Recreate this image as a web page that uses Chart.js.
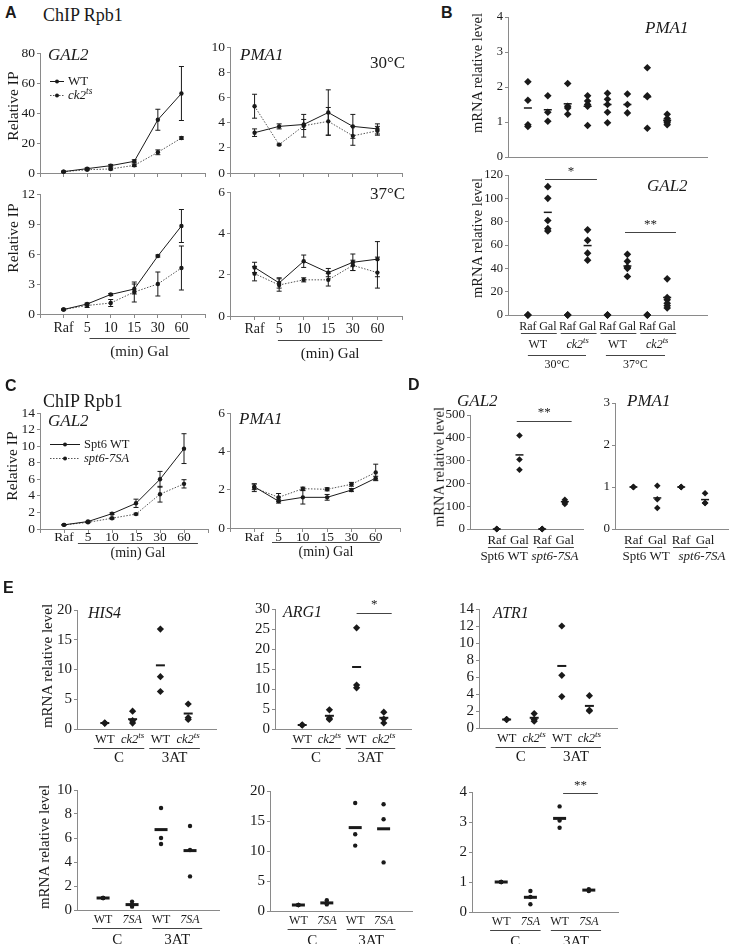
<!DOCTYPE html>
<html>
<head>
<meta charset="utf-8">
<title>ChIP Rpb1 / mRNA figure</title>
<script src="https://cdn.jsdelivr.net/npm/chart.js@4.4.1/dist/chart.umd.min.js"></script>
<style>
  body { margin: 0; background: #fff; }
  #fig { position: relative; width: 730px; height: 944px; overflow: hidden; color: #1a1a1a;
         font-family: "Liberation Serif", "Times New Roman", serif; }
  #fig canvas { position: absolute; }
  .c { position: absolute; white-space: nowrap; transform: translate(-50%, -50%); line-height: 1; }
  .l { position: absolute; white-space: nowrap; transform: translateY(-50%); line-height: 1; }
  .y { position: absolute; white-space: nowrap; transform: translate(-50%, -50%) rotate(-90deg); line-height: 1; font-size: 15px; }
  .p { font-family: "Liberation Sans", Arial, sans-serif; font-weight: bold; font-size: 16px; }
</style>
</head>
<body>
<div id="fig"></div>
<script>
// ---- data ----
const timeLabels = ['Raf', '5', '10', '15', '30', '60'];

// A: ChIP Rpb1, WT vs ck2ts
const gal2WT30 = [0.9, 2.9, 4.9, 7.8, 35.5, 53];
const gal2WT30Err = [0.3, 0.5, 0.8, 1, 7, 18];
const gal2Ck30 = [0.9, 2.2, 2.7, 5.1, 13.8, 23.3];
const gal2Ck30Err = [0.3, 0.4, 0.6, 0.8, 1.6, 0.8];
const pma1WT30 = [3.2, 3.7, 3.85, 4.8, 3.7, 3.5];
const pma1WT30Err = [0.3, 0.2, 0.4, 1.8, 0.95, 0.4];
const pma1Ck30 = [5.3, 2.25, 3.75, 4.1, 2.95, 3.35];
const pma1Ck30Err = [0.95, 0.05, 0.9, 1.1, 0.75, 0.35];
const gal2WT37 = [0.45, 1, 1.95, 2.5, 5.8, 8.8];
const gal2WT37Err = [0.05, 0.1, 0.1, 0.5, 0.1, 1.65];
const gal2Ck37 = [0.45, 0.85, 1.1, 2.2, 3, 4.6];
const gal2Ck37Err = [0.05, 0.2, 0.35, 1, 1.2, 2.2];
const pma1WT37 = [2.35, 1.6, 2.65, 2.1, 2.6, 2.75];
const pma1WT37Err = [0.25, 0.25, 0.3, 0.2, 0.4, 0.85];
const pma1Ck37 = [2.05, 1.5, 1.75, 1.75, 2.45, 2.1];
const pma1Ck37Err = [0.35, 0.3, 0.1, 0.3, 0.25, 0.75];

// B: mRNA, Raf/Gal for WT & ck2ts at 30 and 37
const bCats = ['Raf', 'Gal', 'Raf', 'Gal', 'Raf', 'Gal', 'Raf', 'Gal'];
const bPma1 = [
  [2.15, 1.62, 0.92, 0.87], [1.75, 1.28, 1.02], [2.1, 1.45, 1.4, 1.22], [1.75, 1.6, 1.5, 1.45, 0.9],
  [1.82, 1.65, 1.5, 1.28, 0.98], [1.8, 1.5, 1.26], [2.55, 1.75, 1.72, 0.82], [1.22, 1.1, 1.02, 0.98, 0.92]
];
const bPma1Mean = [1.4, 1.35, 1.52, 1.45, 1.5, 1.5, 1.72, 1.05];
const bGal2 = [
  [0, 0, 0], [110, 100, 81, 74, 72], [0, 0, 0], [73, 64, 53, 47],
  [0, 0, 0], [52, 46, 41, 40, 33], [0, 0, 0], [31, 15, 13, 10, 8, 6]
];
const bGal2Mean = [null, 88, null, 59.5, null, 42, null, 15];

// C: ChIP Rpb1, Spt6 WT vs spt6-7SA
const cGal2WT = [0.5, 0.9, 1.85, 3.1, 6, 9.7];
const cGal2WTErr = [0.05, 0.05, 0.1, 0.5, 0.95, 1.8];
const cGal2SA = [0.5, 0.8, 1.3, 1.8, 4.2, 5.45];
const cGal2SAErr = [0.05, 0.05, 0.1, 0.1, 0.95, 0.5];
const cPma1WT = [2.15, 1.4, 1.6, 1.6, 1.98, 2.6];
const cPma1WTErr = [0.15, 0.1, 0.35, 0.15, 0.08, 0.1];
const cPma1SA = [2.1, 1.6, 2.05, 2.02, 2.28, 2.9];
const cPma1SAErr = [0.2, 0.2, 0.08, 0.08, 0.1, 0.43];

// D: mRNA, Raf/Gal for Spt6 WT & spt6-7SA
const dCats = ['Raf', 'Gal', 'Raf', 'Gal'];
const dGal2 = [[0, 0, 0], [410, 305, 260], [0, 0, 0], [128, 120, 115, 110]];
const dGal2Mean = [0, 325, 0, 120];
const dPma1 = [[1, 1, 1], [1.03, 0.71, 0.5], [1, 1, 1], [0.85, 0.62, 0.62]];
const dPma1Mean = [1, 0.74, 1, 0.7];

// E: mRNA, control vs 3AT
const CK2 = [['ck2', 'i'], ['ts', 'is']];
const SA7 = [['7SA', 'i']];
const eCatsCk = ['WT', CK2, 'WT', CK2];
const eCatsSA = ['WT', SA7, 'WT', SA7];
const his4 = [[1, 1, 1], [3, 1.4, 1], [16.8, 8.8, 6.3], [4.2, 1.9, 1.6]];
const his4Mean = [1, 1.65, 10.7, 2.6];
const arg1 = [[1, 1, 1], [4.8, 2.7, 2.4], [25.3, 11, 10.3], [4.2, 2.5, 1.5]];
const arg1Mean = [1, 3.3, 15.5, 2.8];
const atr1 = [[1, 1, 1], [1.7, 1, 0.8], [12, 6.2, 3.7], [3.8, 2.1, 2]];
const atr1Mean = [1, 1.2, 7.3, 2.6];
const his4SA = [[1, 1, 1], [0.7, 0.45, 0.28], [8.5, 6, 5.5], [7, 5, 2.8]];
const his4SAMean = [1, 0.45, 6.7, 4.95];
const arg1SA = [[1, 1, 1], [1.8, 1.3, 1.1], [18, 12.8, 10.9], [17.8, 15.3, 8.1]];
const arg1SAMean = [1, 1.35, 13.9, 13.7];
const atr1SA = [[1, 1, 1], [0.7, 0.5, 0.26], [3.52, 3.05, 2.81], [0.76, 0.72, 0.7]];
const atr1SAMean = [1, 0.49, 3.12, 0.73];

// ---- drawing helpers ----
const fig = document.getElementById('fig');
const ink = '#1a1a1a';
const axisGrey = '#8a8a8a';
const serif = '"Liberation Serif", "Times New Roman", serif';

function rich(ctx, parts, x, y, size, align) {
  if (typeof parts === 'string') parts = [[parts, '']];
  const segs = parts.map(([t, st]) => {
    const sup = st.includes('s');
    const font = (st.includes('i') ? 'italic ' : '') + (sup ? size * 0.72 : size) + 'px ' + serif;
    ctx.font = font;
    return { t, font, w: ctx.measureText(t).width, dy: sup ? -size * 0.33 : 0 };
  });
  const total = segs.reduce((s, g) => s + g.w, 0);
  let cx = align === 'left' ? x : x - total / 2;
  ctx.textAlign = 'left';
  ctx.textBaseline = 'middle';
  segs.forEach(g => { ctx.font = g.font; ctx.fillText(g.t, cx, y + g.dy); cx += g.w; });
}

function hline(ctx, x1, x2, y) {
  y = Math.round(y) + 0.5;
  ctx.beginPath(); ctx.moveTo(x1, y); ctx.lineTo(x2, y); ctx.stroke();
}

function extras(c) {
  return {
    id: 'extras',
    afterDatasetsDraw(chart) {
      const ctx = chart.ctx, xs = chart.scales.x, ys = chart.scales.y, a = chart.chartArea;
      ctx.save();
      ctx.strokeStyle = ink; ctx.fillStyle = ink; ctx.lineWidth = 1;
      // error bars
      chart.data.datasets.forEach(ds => {
        if (!ds.err) return;
        ds.data.forEach((p, i) => {
          const e = ds.err[i];
          if (!e) return;
          const x = xs.getPixelForValue(p.x);
          const t = ys.getPixelForValue(p.y + e), b = ys.getPixelForValue(p.y - e);
          ctx.beginPath();
          ctx.moveTo(x, t); ctx.lineTo(x, b);
          ctx.moveTo(x - 2.5, t); ctx.lineTo(x + 2.5, t);
          ctx.moveTo(x - 2.5, b); ctx.lineTo(x + 2.5, b);
          ctx.stroke();
        });
      });
      // category labels under the axis
      (c.cats || []).forEach((lab, i) => rich(ctx, lab, xs.getPixelForValue(i + 1), a.bottom + c.catDy, c.catSize));
      // underlines and group labels
      ctx.strokeStyle = '#444';
      (c.groups || []).forEach(g => {
        const x1 = xs.getPixelForValue(g.a), x2 = xs.getPixelForValue(g.b);
        if (g.line) hline(ctx, x1, x2, a.bottom + g.line);
        if (g.text) rich(ctx, g.text, (x1 + x2) / 2, a.bottom + g.ty, g.size || c.catSize);
      });
      // significance bars
      (c.sig || []).forEach(s => {
        const x1 = xs.getPixelForValue(s.a), x2 = xs.getPixelForValue(s.b), y = ys.getPixelForValue(s.y);
        hline(ctx, x1, x2, y);
        rich(ctx, s.text, (x1 + x2) / 2, y - 8, 13);
      });
      // legend
      if (c.legend) {
        c.legend.items.forEach((it, k) => {
          const x = a.left + c.legend.dx, y = Math.round(a.top + c.legend.dy + k * c.legend.gap) + 0.5;
          const len = c.legend.len;
          ctx.strokeStyle = k ? '#555' : ink;
          ctx.setLineDash(k ? [1.5, 1.5] : []);
          ctx.beginPath(); ctx.moveTo(x, y); ctx.lineTo(x + len, y); ctx.stroke();
          ctx.setLineDash([]);
          ctx.beginPath(); ctx.arc(x + len / 2, y, 2, 0, Math.PI * 2); ctx.fill();
          rich(ctx, it, x + len + 4, y, c.legend.size, 'left');
        });
      }
      ctx.restore();
    }
  };
}

function plot(c) {
  const yW = 44, pt = 14, pr = 12, xH = 66;
  const x0 = Math.round(c.x0), top = Math.round(c.top);
  const w = Math.round(c.x1) - x0 + yW + pr, h = Math.round(c.bottom) - top + pt + xH;
  const cv = document.createElement('canvas');
  cv.width = w; cv.height = h;
  cv.style.left = (x0 - yW) + 'px';
  cv.style.top = (top - pt) + 'px';
  fig.appendChild(cv);

  const datasets = [];
  (c.lines || []).forEach(l => datasets.push({
    data: l.y.map((v, i) => ({ x: i + 1, y: v })),
    err: l.err,
    showLine: true,
    borderColor: l.dotted ? '#555' : ink,
    borderWidth: 1,
    borderDash: l.dotted ? [1.5, 1.5] : [],
    pointRadius: 2.2,
    pointBackgroundColor: ink,
    pointBorderWidth: 0,
    clip: false
  }));
  if (c.pts) {
    datasets.push({
      data: c.pts.flatMap((g, i) => g.map(v => ({ x: i + 1, y: v }))),
      pointStyle: c.dot, pointRadius: c.dotR,
      pointBackgroundColor: ink, pointBorderWidth: 0, clip: false
    });
    datasets.push({
      data: c.mean.map((v, i) => (v === null ? null : { x: i + 1, y: v })).filter(Boolean),
      pointStyle: 'line', pointRadius: c.meanR,
      pointBorderColor: ink, pointBorderWidth: c.meanW, clip: false
    });
  }

  new Chart(cv, {
    type: 'scatter',
    data: { datasets },
    options: {
      responsive: false,
      animation: false,
      events: [],
      layout: { padding: { top: pt, right: pr, left: 0, bottom: 0 } },
      plugins: { legend: { display: false }, tooltip: { enabled: false } },
      scales: {
        x: {
          type: 'linear', min: c.xMin || 0, max: c.xMax,
          afterFit: s => { s.height = xH; },
          ticks: { display: false, stepSize: 1, autoSkip: false },
          grid: { display: !!c.xTicks, drawOnChartArea: false, tickLength: 4, color: axisGrey },
          border: { color: axisGrey, width: 1 }
        },
        y: {
          min: 0, max: c.yMax,
          afterFit: s => { s.width = yW; },
          ticks: { stepSize: c.yStep, autoSkip: false, color: ink, padding: 2, font: { family: serif, size: c.tick } },
          grid: { drawOnChartArea: false, tickLength: 3, color: axisGrey },
          border: { color: axisGrey, width: 1 }
        }
      }
    },
    plugins: [extras(c)]
  });
}

function text(html, x, y, cls, style) {
  const d = document.createElement('div');
  d.className = cls;
  d.innerHTML = html;
  d.style.left = x + 'px';
  d.style.top = y + 'px';
  if (style) d.style.cssText += style;
  fig.appendChild(d);
}

// ---- panel A ----
const timeGroup = (a, b) => [{ a, b, line: 24, text: '(min) Gal', ty: 38, size: 15 }];
plot({ x0: 40, x1: 205, top: 53, bottom: 173, xMax: 7, yMax: 80, yStep: 20, tick: 13.5, xTicks: true,
  lines: [{ y: gal2WT30, err: gal2WT30Err }, { y: gal2Ck30, err: gal2Ck30Err, dotted: true }],
  legend: { dx: 10, dy: 28, gap: 14, len: 14, size: 13, items: ['WT', CK2] } });
plot({ x0: 230, x1: 402, top: 47, bottom: 173, xMax: 7, yMax: 10, yStep: 2, tick: 13.5, xTicks: true,
  lines: [{ y: pma1WT30, err: pma1WT30Err }, { y: pma1Ck30, err: pma1Ck30Err, dotted: true }] });
plot({ x0: 40, x1: 205, top: 194, bottom: 314, xMax: 7, yMax: 12, yStep: 3, tick: 13.5, xTicks: true,
  lines: [{ y: gal2WT37, err: gal2WT37Err }, { y: gal2Ck37, err: gal2Ck37Err, dotted: true }],
  cats: timeLabels, catDy: 14, catSize: 14, groups: timeGroup(2.1, 6.35) });
plot({ x0: 230, x1: 402, top: 192, bottom: 316, xMax: 7, yMax: 6, yStep: 2, tick: 13.5, xTicks: true,
  lines: [{ y: pma1WT37, err: pma1WT37Err }, { y: pma1Ck37, err: pma1Ck37Err, dotted: true }],
  cats: timeLabels, catDy: 13, catSize: 14, groups: timeGroup(1.95, 6.2) });

// ---- panel B ----
const bGroups = [];
for (let k = 0; k < 4; k++) bGroups.push({ a: 0.65 + 2 * k, b: 2.45 + 2 * k, line: 18 });
bGroups.push({ a: 1, b: 2, text: 'WT', ty: 30 }, { a: 3, b: 4, text: CK2, ty: 30 },
  { a: 5, b: 6, text: 'WT', ty: 30 }, { a: 7, b: 8, text: CK2, ty: 30 },
  { a: 1, b: 3.92, line: 40, text: '30°C', ty: 50 }, { a: 4.92, b: 7.89, line: 40, text: '37°C', ty: 50 });
plot({ x0: 508, x1: 707, top: 17, bottom: 157, xMax: 10, yMax: 4, yStep: 1, tick: 12.5,
  pts: bPma1, mean: bPma1Mean, dot: 'rectRot', dotR: 3.8, meanR: 4, meanW: 1.5 });
plot({ x0: 508, x1: 707, top: 175, bottom: 315, xMax: 10, yMax: 120, yStep: 20, tick: 12.5,
  pts: bGal2, mean: bGal2Mean, dot: 'rectRot', dotR: 3.8, meanR: 4, meanW: 1.5,
  cats: bCats, catDy: 12, catSize: 12, groups: bGroups,
  sig: [{ a: 1.86, b: 4.47, y: 116.5, text: '*' }, { a: 5.88, b: 8.44, y: 71, text: '**' }] });

// ---- panel C ----
const cGroup = (a, b) => [{ a, b, line: 14, text: '(min) Gal', ty: 24, size: 14 }];
plot({ x0: 40, x1: 208, top: 413, bottom: 529, xMax: 7, yMax: 14, yStep: 2, tick: 13.5, xTicks: true,
  lines: [{ y: cGal2WT, err: cGal2WTErr }, { y: cGal2SA, err: cGal2SAErr, dotted: true }],
  legend: { dx: 10, dy: 31, gap: 14, len: 30, size: 12.5, items: ['Spt6 WT', [['spt6-7SA', 'i']]] },
  cats: timeLabels, catDy: 8, catSize: 13.5, groups: cGroup(1.58, 6.58) });
plot({ x0: 230, x1: 400, top: 413, bottom: 528, xMax: 7, yMax: 6, yStep: 2, tick: 13.5, xTicks: true,
  lines: [{ y: cPma1WT, err: cPma1WTErr }, { y: cPma1SA, err: cPma1SAErr, dotted: true }],
  cats: timeLabels, catDy: 9, catSize: 13.5, groups: cGroup(1.73, 6.17) });

// ---- panel D ----
plot({ x0: 470, x1: 583, top: 415, bottom: 529, xMin: -0.18, xMax: 4.8, yMax: 500, yStep: 100, tick: 13,
  pts: dGal2, mean: dGal2Mean, dot: 'rectRot', dotR: 3.3, meanR: 4, meanW: 1.5,
  cats: dCats, catDy: 12, catSize: 13,
  groups: [{ a: 0.61, b: 2.37, line: 18 }, { a: 2.77, b: 4.4, line: 18 },
    { a: 0.82, b: 1.82, text: 'Spt6 WT', ty: 28 }, { a: 3.06, b: 4.06, text: [['spt6-7SA', 'i']], ty: 28 }],
  sig: [{ a: 1.88, b: 4.3, y: 474, text: '**' }] });
plot({ x0: 615, x1: 728, top: 403, bottom: 529, xMin: 0.23, xMax: 4.96, yMax: 3, yStep: 1, tick: 13,
  pts: dPma1, mean: dPma1Mean, dot: 'rectRot', dotR: 3.3, meanR: 4, meanW: 1.5,
  cats: dCats, catDy: 12, catSize: 13,
  groups: [{ a: 0.65, b: 2.2, line: 18 }, { a: 2.66, b: 4.12, line: 18 },
    { a: 1.03, b: 2.03, text: 'Spt6 WT', ty: 28 }, { a: 3.37, b: 4.37, text: [['spt6-7SA', 'i']], ty: 28 }] });

// ---- panel E ----
const eGroups1 = [{ a: 0.6, b: 2.42, line: 19, text: 'C', ty: 29, size: 15 },
  { a: 2.6, b: 4.42, line: 19, text: '3AT', ty: 29, size: 15 }];
const eGroups2 = [{ a: 0.62, b: 2.35, line: 18, text: 'C', ty: 30, size: 15 },
  { a: 2.7, b: 4.42, line: 18, text: '3AT', ty: 30, size: 15 }];
const row1 = { xMax: 5, tick: 15, dot: 'rectRot', dotR: 3.6, meanR: 4.5, meanW: 2,
  cats: eCatsCk, catDy: 11, catSize: 12.5, groups: eGroups1 };
const row2 = { xMax: 5, tick: 15, dot: 'circle', dotR: 2.2, meanR: 6.5, meanW: 3,
  cats: eCatsSA, catDy: 10, catSize: 12, groups: eGroups2 };
plot(Object.assign({}, row1, { x0: 77, x1: 216, top: 610, bottom: 729, yMax: 20, yStep: 5, pts: his4, mean: his4Mean }));
plot(Object.assign({}, row1, { x0: 275, x1: 411, top: 609, bottom: 729, yMax: 30, yStep: 5, pts: arg1, mean: arg1Mean,
  sig: [{ a: 3.0, b: 4.29, y: 29.1, text: '*' }] }));
plot(Object.assign({}, row1, { x0: 479, x1: 617, top: 609, bottom: 728, yMax: 14, yStep: 2, pts: atr1, mean: atr1Mean }));
plot(Object.assign({}, row2, { x0: 77, x1: 219, top: 790, bottom: 910, xMin: 0.1, yMax: 10, yStep: 2, pts: his4SA, mean: his4SAMean }));
plot(Object.assign({}, row2, { x0: 270, x1: 412, top: 791, bottom: 911, yMax: 20, yStep: 5, pts: arg1SA, mean: arg1SAMean }));
plot(Object.assign({}, row2, { x0: 472, x1: 618, top: 792, bottom: 912, yMax: 4, yStep: 1, pts: atr1SA, mean: atr1SAMean,
  sig: [{ a: 3.12, b: 4.31, y: 3.95, text: '**' }] }));

// ---- text ----
text('A', 5, 4, 'p', 'position:absolute');
text('B', 441, 4, 'p', 'position:absolute');
text('C', 5, 377, 'p', 'position:absolute');
text('D', 408, 376, 'p', 'position:absolute');
text('E', 3, 579, 'p', 'position:absolute');
text('ChIP Rpb1', 43, 15, 'l', 'font-size:18px');
text('ChIP Rpb1', 43, 401, 'l', 'font-size:18px');

text('<i>GAL2</i>', 48, 54, 'l', 'font-size:17px');
text('<i>PMA1</i>', 240, 54, 'l', 'font-size:17px');
text('30°C', 370, 62, 'l', 'font-size:17px');
text('37°C', 370, 193, 'l', 'font-size:17px');
text('<i>PMA1</i>', 645, 27, 'l', 'font-size:17px');
text('<i>GAL2</i>', 647, 185, 'l', 'font-size:17px');
text('<i>GAL2</i>', 48, 420, 'l', 'font-size:17px');
text('<i>PMA1</i>', 239, 418, 'l', 'font-size:17px');
text('<i>GAL2</i>', 457, 400, 'l', 'font-size:17px');
text('<i>PMA1</i>', 627, 400, 'l', 'font-size:17px');
text('<i>HIS4</i>', 88, 613, 'l', 'font-size:16px');
text('<i>ARG1</i>', 283, 612, 'l', 'font-size:16px');
text('<i>ATR1</i>', 493, 613, 'l', 'font-size:16px');

text('Relative IP', 13, 106, 'y', 'font-size:15.5px');
text('Relative IP', 13, 238, 'y', 'font-size:15.5px');
text('Relative IP', 12, 466, 'y', 'font-size:15.5px');
text('mRNA relative level', 477, 73, 'y', 'font-size:14.5px');
text('mRNA relative level', 477, 238, 'y', 'font-size:14.5px');
text('mRNA relative level', 439, 467, 'y', 'font-size:14.5px');
text('mRNA relative level', 47, 666, 'y');
text('mRNA relative level', 44, 847, 'y');
</script>
</body>
</html>
